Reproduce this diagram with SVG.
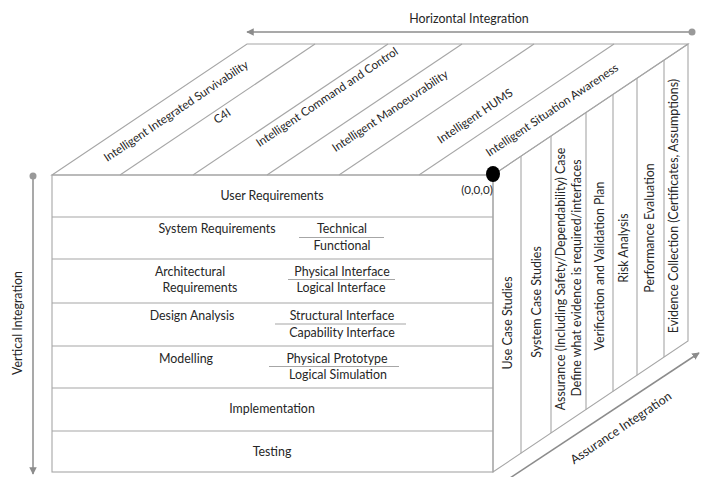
<svg xmlns="http://www.w3.org/2000/svg" width="705" height="477" viewBox="0 0 705 477">
  <style>
    .edge { stroke: #a6a6a6; stroke-width: 1.1; fill: none; }
    .rule { stroke: #a6a6a6; stroke-width: 1.1; }
    .axis { stroke: #8c8c8c; stroke-width: 1.5; fill: none; }
    text { font-family: Lato, "Open Sans", "Liberation Sans", sans-serif; font-size: 12.4px; fill: #262626; text-anchor: middle; }
    .sm { font-size: 11.6px; }
  </style>
  <defs>
    <marker id="tip" viewBox="0 0 10 10" refX="9" refY="5" markerWidth="5" markerHeight="5" orient="auto-start-reverse" markerUnits="strokeWidth">
      <path d="M0,0 L10,5 L0,10 z" fill="#8c8c8c"/>
    </marker>
  </defs>

  <rect width="705" height="477" fill="#fff"/>

  <!-- Integration axes -->
  <g id="connectors">
    <line class="axis" x1="692" y1="32" x2="247" y2="32" marker-end="url(#tip)"/>
    <circle cx="692" cy="32" r="3.5" fill="#999"/>
    <line class="axis" x1="33" y1="176" x2="33" y2="474" marker-end="url(#tip)"/>
    <circle cx="33" cy="176" r="3.5" fill="#999"/>
    <line class="axis" x1="510" y1="478" x2="699" y2="353" marker-end="url(#tip)"/>
  </g>
  <text x="469" y="23">Horizontal Integration</text>
  <text transform="translate(18 323) rotate(-90)" y="4">Vertical Integration</text>
  <text transform="translate(621 428) rotate(-33.9)" y="4">Assurance Integration</text>

  <!-- Top face: capability strands -->
  <g id="top-face">
    <polygon class="edge" points="52,175 247,44 688,44 493,175"/>
    <line class="rule" x1="120" y1="175" x2="315" y2="44"/>
    <line class="rule" x1="193" y1="175" x2="388" y2="44"/>
    <line class="rule" x1="267" y1="175" x2="462" y2="44"/>
    <line class="rule" x1="339" y1="175" x2="534" y2="44"/>
    <line class="rule" x1="419" y1="175" x2="614" y2="44"/>
    <text class="sm" transform="translate(176 111) rotate(-33.9)" y="4">Intelligent Integrated Survivability</text>
    <text class="sm" transform="translate(222 116) rotate(-33.9)" y="4">C4I</text>
    <text class="sm" transform="translate(327 97) rotate(-33.9)" y="4">Intelligent Command and Control</text>
    <text class="sm" transform="translate(390 111) rotate(-33.9)" y="4">Intelligent Manoeuvrability</text>
    <text class="sm" transform="translate(475 116) rotate(-33.9)" y="4">Intelligent HUMS</text>
    <text class="sm" transform="translate(552 110) rotate(-33.9)" y="4">Intelligent Situation Awareness</text>
  </g>

  <!-- Front face: lifecycle layers -->
  <g id="front-face">
    <rect class="edge" x="52" y="175" width="441" height="297"/>
    <line class="rule" x1="52" y1="217" x2="493" y2="217"/>
    <line class="rule" x1="52" y1="259" x2="493" y2="259"/>
    <line class="rule" x1="52" y1="303" x2="493" y2="303"/>
    <line class="rule" x1="52" y1="346" x2="493" y2="346"/>
    <line class="rule" x1="52" y1="388" x2="493" y2="388"/>
    <line class="rule" x1="52" y1="431" x2="493" y2="431"/>
  </g>
  <g id="user-requirements"><text x="272" y="200">User Requirements</text></g>
  <g id="system-requirements">
    <text x="217" y="233">System Requirements</text>
    <text x="342" y="233">Technical</text>
    <line class="rule" x1="299" y1="237.5" x2="384" y2="237.5"/>
    <text x="342" y="250">Functional</text>
  </g>
  <g id="architectural-requirements">
    <text x="190" y="276">Architectural</text>
    <text x="200" y="292">Requirements</text>
    <text x="342" y="276">Physical Interface</text>
    <line class="rule" x1="288" y1="279.5" x2="395" y2="279.5"/>
    <text x="341" y="292">Logical Interface</text>
  </g>
  <g id="design-analysis">
    <text x="192" y="320">Design Analysis</text>
    <text x="342" y="320">Structural Interface</text>
    <line class="rule" x1="275" y1="324" x2="406" y2="324"/>
    <text x="342" y="337">Capability Interface</text>
  </g>
  <g id="modelling">
    <text x="186" y="363">Modelling</text>
    <text x="337" y="363">Physical Prototype</text>
    <line class="rule" x1="269" y1="366.5" x2="399" y2="366.5"/>
    <text x="338" y="379">Logical Simulation</text>
  </g>
  <g id="implementation"><text x="272" y="413">Implementation</text></g>
  <g id="testing"><text x="272" y="456">Testing</text></g>

  <!-- Side face: assurance strands -->
  <g id="side-face">
    <polygon class="edge" points="493,175 688,44 688,341 493,472"/>
    <line class="rule" x1="521" y1="156.2" x2="521" y2="453.2"/>
    <line class="rule" x1="551" y1="136.0" x2="551" y2="433.0"/>
    <line class="rule" x1="586" y1="112.5" x2="586" y2="409.5"/>
    <line class="rule" x1="613" y1="94.4" x2="613" y2="391.4"/>
    <line class="rule" x1="637" y1="78.3" x2="637" y2="375.3"/>
    <line class="rule" x1="664" y1="60.1" x2="664" y2="357.1"/>
    <text transform="translate(508 323) rotate(-90)" y="4">Use Case Studies</text>
    <text transform="translate(537 302) rotate(-90)" y="4">System Case Studies</text>
    <text transform="translate(561 279) rotate(-90)" y="4">Assurance (Including Safety/Dependability) Case</text>
    <text transform="translate(577 278) rotate(-90)" y="4">Define what evidence is required/interfaces</text>
    <text transform="translate(600 266) rotate(-90)" y="4">Verification and Validation Plan</text>
    <text transform="translate(624 248) rotate(-90)" y="4">Risk Analysis</text>
    <text transform="translate(650 228) rotate(-90)" y="4">Performance Evaluation</text>
    <text transform="translate(674 206) rotate(-90)" y="4">Evidence Collection (Certificates, Assumptions)</text>
  </g>

  <!-- Origin marker -->
  <g id="origin">
    <ellipse cx="493" cy="174" rx="7" ry="8" fill="#000"/>
    <text class="sm" x="477" y="194">(0,0,0)</text>
  </g>
</svg>
